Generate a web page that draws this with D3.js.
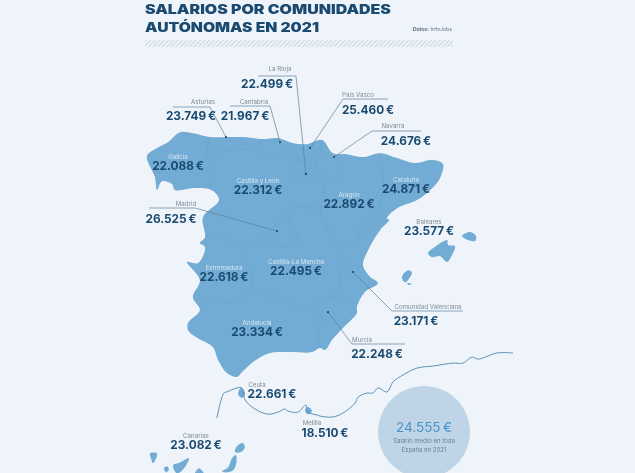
<!DOCTYPE html>
<html lang="es">
<head>
<meta charset="utf-8">
<title>Salarios por comunidades autónomas en 2021</title>
<script src="https://cdn.jsdelivr.net/npm/d3@7"></script>
<style>
  html, body { margin: 0; padding: 0; background: #eff4fa; overflow: hidden; }
  svg { display: block; font-family: Inter, "Open Sans", sans-serif; filter: blur(0.35px); }
</style>
</head>
<body>
<svg id="chart" width="635" height="473"></svg>
<script>
// DATA
const regions = ["La Rioja", "Asturias", "Cantabria", "País Vasco", "Navarra", "Galicia", "Castilla y León", "Madrid", "Extremadura", "Castilla-La Mancha", "Aragón", "Cataluña", "Baleares", "Comunidad Valenciana", "Murcia", "Andalucía", "Ceuta", "Melilla", "Canarias"];
const salaries = [22499, 23749, 21967, 25460, 24676, 22088, 22312, 26525, 22618, 22495, 22892, 24871, 23577, 23171, 22248, 23334, 22661, 18510, 23082];
const nationalSalary = 24555;
const nationalCaption = ["Salario medio en toda", "España en 2021"];
const titleLines = ["SALARIOS POR COMUNIDADES", "AUTÓNOMAS EN 2021"];

// lon/lat
const peninsula = [[-9.30,43.29],[-8.87,43.54],[-8.40,43.72],[-7.88,44.03],[-7.33,44.00],[-6.60,43.88],[-5.87,43.88],[-5.18,43.88],[-4.32,43.82],[-3.68,43.85],[-3.03,43.69],[-2.43,43.66],[-1.79,43.79],[-1.32,43.38],[-0.72,43.35],[-0.03,43.26],[0.70,43.38],[1.43,43.23],[2.20,43.07],[2.98,43.17],[3.40,43.04],[3.28,42.60],[2.98,42.31],[2.29,41.90],[1.43,41.64],[1.00,41.32],[1.09,41.26],[0.70,40.93],[0.19,40.28],[-0.03,39.79],[0.27,39.40],[0.61,39.19],[0.06,38.90],[-0.29,38.39],[-0.29,38.19],[-0.89,37.68],[-1.36,37.27],[-1.66,36.93],[-1.87,37.00],[-2.22,36.86],[-3.16,36.86],[-4.02,36.83],[-4.75,36.52],[-5.22,36.17],[-5.44,36.00],[-5.87,36.14],[-6.25,36.59],[-6.47,37.03],[-7.15,37.35],[-7.54,37.61],[-7.54,37.85],[-7.03,38.29],[-7.33,38.72],[-7.03,39.29],[-7.58,39.89],[-7.11,39.85],[-6.81,40.38],[-7.03,40.51],[-6.81,40.70],[-6.90,41.35],[-6.21,41.90],[-6.51,42.21],[-7.24,42.28],[-8.10,42.22],[-8.23,42.41],[-8.66,42.50],[-8.87,42.22],[-8.96,42.63]];

const borders = [
  [[-6.60,43.88],[-6.73,43.32],[-6.38,42.91],[-6.60,42.53],[-6.51,42.21]],
  [[-6.73,43.32],[-5.74,43.48],[-4.66,43.54],[-4.32,43.82]],
  [[-4.66,43.54],[-4.24,43.32],[-3.81,43.23],[-3.38,43.48],[-3.03,43.69]],
  [[-3.03,43.69],[-2.86,43.32],[-2.60,43.10],[-2.09,43.17],[-1.87,43.41],[-1.79,43.79]],
  [[-2.09,43.17],[-1.96,42.79],[-1.66,42.47],[-1.32,42.60],[-0.89,42.85],[-1.10,43.17],[-1.32,43.38]],
  [[-2.60,43.10],[-3.17,43.01],[-2.95,42.62],[-2.43,42.69],[-2.22,42.53],[-1.66,42.47]],
  [[-1.66,42.47],[-1.75,41.90],[-1.87,41.51],[-1.66,41.16],[-1.32,40.61],[-0.89,40.38]],
  [[0.70,43.38],[0.83,42.44],[0.70,41.80],[0.36,41.32],[-0.07,41.03],[-0.29,40.59],[-0.89,40.38]],
  [[0.36,41.32],[0.70,40.93]],
  [[-0.89,40.38],[-1.02,39.95],[-0.67,39.79],[-1.02,39.46],[-1.02,39.03],[-1.23,38.72]],
  [[-5.01,38.86],[-4.32,38.86],[-3.16,38.52],[-2.22,38.29],[-1.96,38.52],[-1.23,38.72],[-0.80,38.62],[-0.24,38.52]],
  [[-2.22,38.29],[-1.79,38.05],[-1.96,37.61],[-1.87,37.00]],
  [[-6.81,40.70],[-6.25,40.77],[-5.74,40.61],[-5.31,40.38],[-5.09,39.95],[-4.79,39.29],[-5.01,38.86],[-5.61,38.52],[-6.47,38.62],[-7.03,38.29]],
  [[-5.31,40.38],[-4.32,40.67],[-3.89,41.00],[-3.29,41.58],[-3.16,41.10],[-2.86,40.74],[-2.95,40.51],[-3.59,40.38],[-4.15,40.61],[-4.32,40.67]],
  [[-3.29,41.58],[-2.73,41.68],[-2.17,41.64],[-1.87,41.51]]
];

const islands = [
  [[2.76,40.18],[3.10,40.41],[3.58,40.61],[3.62,40.45],[3.92,40.41],[3.79,40.12],[3.58,39.89],[3.28,40.08],[2.93,40.05]],
  [[4.22,40.74],[4.56,40.87],[4.82,40.74],[4.78,40.58],[4.48,40.61]],
  [[1.64,39.39],[1.90,39.62],[2.07,39.55],[1.90,39.29],[1.77,39.22]],
  [[1.86,39.19],[2.07,39.16],[1.95,39.13]],
  // Ceuta y Melilla
  [[-5.27,35.62],[-5.09,35.44],[-5.22,35.27],[-5.39,35.41]],
  [[-2.39,34.95],[-2.22,34.81],[-2.39,34.70],[-2.52,34.84]],
  // Canarias, where the inset puts them
  [[-9.17,33.31],[-8.87,33.31],[-8.91,33.13],[-9.04,32.95],[-9.13,33.13]],
  [[-8.18,32.88],[-7.88,32.98],[-7.50,33.13],[-7.71,32.77],[-8.01,32.58]],
  [[-8.57,32.77],[-8.44,32.84],[-8.36,32.73],[-8.48,32.62]],
  [[-7.28,32.47],[-7.07,32.77],[-6.81,32.47],[-7.03,32.32]],
  [[-6.08,32.66],[-5.82,32.80],[-5.65,33.13],[-5.48,33.24],[-5.47,32.95],[-5.60,32.70],[-5.95,32.62]],
  [[-5.52,33.35],[-5.44,33.56],[-5.18,33.67],[-5.10,33.52],[-5.27,33.35]]
];

const africaCoast = [[-6.30,34.56],[-6.00,35.44],[-5.87,35.48],[-5.44,35.62],[-5.22,35.62],[-5.09,35.20],[-4.66,34.88],[-4.11,34.70],[-3.68,34.77],[-3.38,34.88],[-3.25,34.81],[-2.82,34.77],[-2.48,35.02],[-2.39,34.77],[-2.00,34.67],[-1.87,34.63],[-1.32,34.60],[-0.89,34.74],[-0.37,35.09],[-0.24,35.30],[0.14,35.44],[0.40,35.44],[0.61,35.62],[1.00,35.48],[1.26,35.83],[1.69,36.07],[2.29,36.31],[2.98,36.38],[3.83,36.48],[4.26,36.48],[4.65,36.69],[4.91,36.62],[5.72,36.83],[6.41,36.83]];

// where each leader ends on the map
const leaderTargets = { "La Rioja": [-2.48,42.73], "Asturias": [-5.91,43.88], "Cantabria": [-3.59,43.72], "País Vasco": [-2.30,43.54], "Navarra": [-1.27,43.26], "Madrid": [-3.72,40.90], "Comunidad Valenciana": [-0.46,39.56], "Murcia": [-1.53,38.22] };

// LAYOUT: [name x, name y, value x, value y]
const labelPos = [[280,68,267,84],[203,101,191,116],[254,101,245,116],[358,94,368,110],[393,125,406,141],[178,156,178,166],[258,180,258,190],[186,203,171,219],[224,267,224,277],[296,261,296,271],[349,194,349,204],[406,179,406,189],[429,221,429,231],[428,306,416,321],[362,339,377,354],[257,322,257,332],[257,384,272,394],[312,422,325,433],[196,435,196,445]];
// underline of the label: from, elbow
const leaderPos = { "La Rioja": [[258,76],[296,76]], "Asturias": [[173,107],[210,107]], "Cantabria": [[230,106],[270,106]], "País Vasco": [[388,99],[343,99]], "Navarra": [[421,131],[372,131]], "Madrid": [[149,208],[195,208]], "Comunidad Valenciana": [[463,311],[392,311]], "Murcia": [[405,344],[352,344]] };
const onMap = ["Galicia", "Castilla y León", "Extremadura", "Castilla-La Mancha", "Aragón", "Cataluña", "Andalucía"];

const navy = "#1b4a70", mapBlue = "#72abd3", borderBlue = "#69a2cc", grey = "#7d8b96";

const svg = d3.select("#chart");
const projection = d3.geoMercator().scale(1335).center([-9.3, 36]).translate([147, 377]);
const closedShape = d3.line().x(d => projection(d)[0]).y(d => projection(d)[1]).curve(d3.curveCatmullRomClosed.alpha(0.5));
const openShape = d3.line().x(d => projection(d)[0]).y(d => projection(d)[1]).curve(d3.curveCatmullRom.alpha(0.5));
const esLocale = d3.formatLocale({ decimal: ",", thousands: ".", grouping: [3], currency: ["", "€"] });
const euro = v => esLocale.format(",")(v) + "\u2009€";

// title
svg.selectAll(".title").data(titleLines).enter().append("text")
  .attr("class", "title")
  .attr("x", 145)
  .attr("y", (d, i) => 14 + i * 17.5)
  .attr("font-size", 13)
  .attr("font-weight", 900)
  .attr("fill", navy)
  .attr("textLength", (d, i) => i === 0 ? 246 : 174)
  .attr("lengthAdjust", "spacingAndGlyphs")
  .text(d => d);

const source = svg.append("text")
  .attr("x", 452).attr("y", 31)
  .attr("text-anchor", "end")
  .attr("font-size", 5.2)
  .attr("fill", "#5f7486");
source.append("tspan").attr("font-weight", 700).attr("font-style", "italic").text("Datos: ");
source.append("tspan").text("InfoJobs");

// hatched band
const hatch = svg.append("defs").append("pattern")
  .attr("id", "hatch")
  .attr("width", 3.2).attr("height", 3.2)
  .attr("patternUnits", "userSpaceOnUse")
  .attr("patternTransform", "rotate(45)");
hatch.append("rect").attr("width", 1.1).attr("height", 3.2).attr("fill", "#cdd9d9");
svg.append("rect").attr("x", 145).attr("y", 40).attr("width", 308).attr("height", 7).attr("fill", "url(#hatch)");

// map
svg.append("path").attr("d", closedShape(peninsula)).attr("fill", mapBlue);
svg.selectAll(".border").data(borders).enter().append("path")
  .attr("class", "border")
  .attr("d", openShape)
  .attr("fill", "none")
  .attr("stroke", borderBlue)
  .attr("stroke-width", 0.6);
svg.selectAll(".island").data(islands).enter().append("path")
  .attr("class", "island")
  .attr("d", closedShape)
  .attr("fill", mapBlue);
svg.append("path").attr("d", openShape(africaCoast))
  .attr("fill", "none")
  .attr("stroke", "#5e90b4")
  .attr("stroke-width", 1);

// national average
svg.append("circle").attr("cx", 424).attr("cy", 432).attr("r", 46).attr("fill", "#bfd5e7");
svg.append("text")
  .attr("x", 424).attr("y", 427)
  .attr("text-anchor", "middle").attr("dominant-baseline", "central")
  .attr("font-size", 13.5).attr("fill", "#4a93c8")
  .text(euro(nationalSalary));
svg.selectAll(".caption").data(nationalCaption).enter().append("text")
  .attr("class", "caption")
  .attr("x", 424)
  .attr("y", (d, i) => 440 + i * 9)
  .attr("text-anchor", "middle").attr("dominant-baseline", "central")
  .attr("font-size", 6).attr("fill", "#6d8192")
  .text(d => d);

// leaders
const leaders = svg.selectAll(".leader").data(Object.keys(leaderTargets)).enter().append("g").attr("class", "leader");
leaders.append("polyline")
  .attr("points", d => [...leaderPos[d], projection(leaderTargets[d])].join(" "))
  .attr("fill", "none")
  .attr("stroke", "#5b7f9c")
  .attr("stroke-width", 0.7);
leaders.append("circle")
  .attr("cx", d => projection(leaderTargets[d])[0])
  .attr("cy", d => projection(leaderTargets[d])[1])
  .attr("r", 1.1)
  .attr("fill", navy);

// labels
const labels = svg.selectAll(".label").data(regions).enter().append("g").attr("class", "label");
labels.append("text")
  .attr("x", (d, i) => labelPos[i][0])
  .attr("y", (d, i) => labelPos[i][1])
  .attr("text-anchor", "middle").attr("dominant-baseline", "central")
  .attr("font-size", 6.2)
  .attr("fill", d => onMap.includes(d) ? "#d6e7f3" : grey)
  .text(d => d);
labels.append("text")
  .attr("x", (d, i) => labelPos[i][2])
  .attr("y", (d, i) => labelPos[i][3])
  .attr("text-anchor", "middle").attr("dominant-baseline", "central")
  .attr("font-size", 11.8)
  .attr("font-weight", 700)
  .attr("fill", navy)
  .text((d, i) => euro(salaries[i]));
</script>
</body>
</html>
